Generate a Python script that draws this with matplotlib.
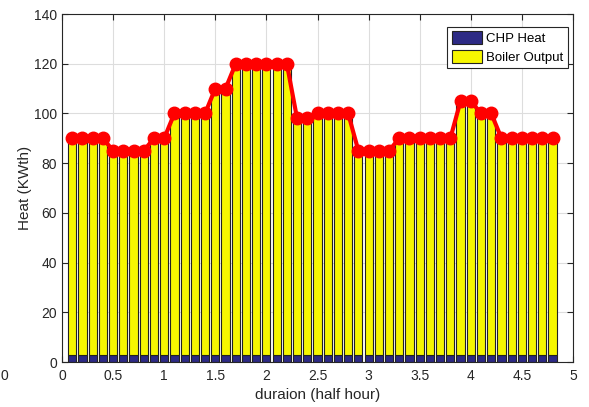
import numpy as np
import matplotlib.pyplot as plt

plt.rcParams['font.family'] = ['Liberation Sans', 'DejaVu Sans']

# time steps (half hour) and heat values (KWth)
t = [0.1, 0.2, 0.3, 0.4, 0.5, 0.6, 0.7, 0.8, 0.9, 1.0,
     1.1, 1.2, 1.3, 1.4, 1.5, 1.6, 1.7, 1.8, 1.9, 2.0,
     2.1, 2.2, 2.3, 2.4, 2.5, 2.6, 2.7, 2.8, 2.9, 3.0,
     3.1, 3.2, 3.3, 3.4, 3.5, 3.6, 3.7, 3.8, 3.9, 4.0,
     4.1, 4.2, 4.3, 4.4, 4.5, 4.6, 4.7, 4.8]
demand = [90, 90, 90, 90, 85, 85, 85, 85, 90, 90,
          100, 100, 100, 100, 110, 110, 120, 120, 120, 120,
          120, 120, 98, 98, 100, 100, 100, 100, 85, 85,
          85, 85, 90, 90, 90, 90, 90, 90, 105, 105,
          100, 100, 90, 90, 90, 90, 90, 90]
chp = [2.8, 2.8, 2.8, 2.8, 2.8, 2.8, 2.8, 2.8, 2.8, 2.8,
       2.8, 2.8, 2.8, 2.8, 2.8, 2.8, 2.8, 2.8, 2.8, 2.8,
       2.8, 2.8, 2.8, 2.8, 2.8, 2.8, 2.8, 2.8, 2.8, 2.8,
       2.8, 2.8, 2.8, 2.8, 2.8, 2.8, 2.8, 2.8, 2.8, 2.8,
       2.8, 2.8, 2.8, 2.8, 2.8, 2.8, 2.8, 2.8]
boiler = np.array(demand) - np.array(chp)

fig = plt.figure(figsize=(5.89, 4.07), dpi=100)
ax = fig.add_axes([62/589, 45/407, 511/589, 348/407])

ax.bar(t, chp, width=0.08, color='#2d2a85', edgecolor='#222222', linewidth=0.8,
       label='CHP Heat', zorder=2)
ax.bar(t, boiler, width=0.08, bottom=chp, color='#f7f700', edgecolor='#222222',
       linewidth=0.8, label='Boiler Output', zorder=2)
ax.plot(t, demand, color='#ff0000', linewidth=3, marker='o', markersize=9,
        zorder=3)

ax.set_xlim(0, 5)
ax.set_ylim(0, 140)
ax.set_xticks(np.arange(0, 5.01, 0.5))
ax.set_xticklabels(['0', '0.5', '1', '1.5', '2', '2.5', '3', '3.5', '4', '4.5', '5'])
ax.set_yticks(np.arange(0, 141, 20))
ax.grid(True, color='#dddddd', linewidth=0.8, zorder=0)
ax.set_axisbelow(True)
ax.tick_params(direction='in', top=True, right=True, labelsize=10,
               colors='#262626', length=4)
ax.tick_params(axis='x', pad=5)
for s in ax.spines.values():
    s.set_color('#262626')
    s.set_linewidth(0.8)

ax.set_xlabel('duraion (half hour)', fontsize=11, color='#262626', labelpad=4)
ax.set_ylabel('Heat (KWth)', fontsize=11, color='#262626', labelpad=1)

leg = ax.legend(loc='upper right', bbox_to_anchor=(0.990, 0.963), fontsize=9.5,
                borderaxespad=0, fancybox=False, framealpha=1,
                edgecolor='#262626', handlelength=2.3, handleheight=1.1,
                borderpad=0.35, labelspacing=0.35, handletextpad=0.3)
leg.get_frame().set_linewidth(0.8)

fig.text(4/589, 1 - 376/407, '0', ha='center', va='center', fontsize=10,
         color='#262626')

fig.savefig('out.png', dpi=100)
